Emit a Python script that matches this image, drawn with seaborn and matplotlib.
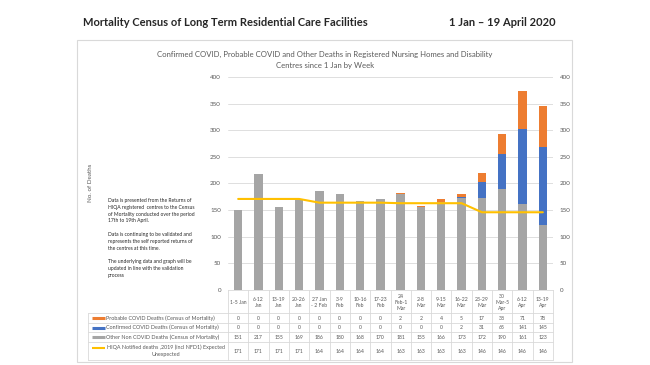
import numpy as np
import pandas as pd
import matplotlib.pyplot as plt
from matplotlib.patches import Rectangle
import seaborn as sns

# Weekly data
weeks = ['1-5 Jan', '6-12\nJan', '13-19\nJan', '20-26\nJan', '27 Jan\n- 2 Feb',
         '3-9\nFeb', '10-16\nFeb', '17-23\nFeb', '24\nFeb-1\nMar', '2-8\nMar',
         '9-15\nMar', '16-22\nMar', '23-29\nMar', '30\nMar-5\nApr', '6-12\nApr',
         '13-19\nApr']
probable = [0, 0, 0, 0, 0, 0, 0, 0, 2, 2, 4, 5, 17, 38, 71, 78]
confirmed = [0, 0, 0, 0, 0, 0, 0, 0, 0, 0, 0, 2, 31, 65, 141, 145]
other = [151, 217, 155, 169, 186, 180, 168, 170, 181, 155, 166, 173, 172, 190, 161, 123]
hiqa = [171, 171, 171, 171, 164, 164, 164, 164, 163, 163, 163, 163, 146, 146, 146, 146]

series_names = ['Probable COVID Deaths (Census of Mortality)',
                'Confirmed COVID Deaths (Census of Mortality)',
                'Other Non COVID Deaths (Census of Mortality)',
                'HIQA Notified deaths ,2019 (incl NFD1) Expected\nUnexpected']
y_ticks = [0, 50, 100, 150, 200, 250, 300, 350, 400]

ORANGE, BLUE, GRAY, YELLOW = '#ED7D31', '#4472C4', '#A5A5A5', '#FFC000'
TXT = '#595959'
LINE = '#D9D9D9'

df = pd.DataFrame({'week': weeks, 'probable': probable, 'confirmed': confirmed,
                   'other': other, 'hiqa': hiqa})
df['pos'] = np.arange(len(df))

sns.set_style('white')
plt.rcParams['font.family'] = ['Lato', 'DejaVu Sans']

W, H = 650, 365
fig = plt.figure(figsize=(6.5, 3.65), dpi=100, facecolor='white')


def fx(x):
    return x / W


def fy(y):
    return 1 - y / H


# outer frame of the chart
fig.patches.append(Rectangle((fx(77), fy(362)), fx(572) - fx(77), fy(40) - fy(362),
                             transform=fig.transFigure, fill=False,
                             edgecolor=LINE, lw=0.8))

fig.text(fx(83), fy(22), 'Mortality Census of Long Term Residential Care Facilities',
         fontsize=8.0, fontweight='bold', va='center')
fig.text(fx(556), fy(22), '1 Jan \u2013 19 April 2020', fontsize=8.0,
         fontweight='bold', va='center', ha='right')
fig.text(fx(325), fy(60), 'Confirmed COVID, Probable COVID and Other Deaths in Registered '
         'Nursing Homes and Disability\nCentres since 1 Jan by Week',
         ha='center', va='center', fontsize=5.6, color=TXT, linespacing=1.7)

# main plot area
L, R, T, B = 228, 553, 77, 290
ax = fig.add_axes([fx(L), fy(B), (R - L) / W, (B - T) / H])

bar_kw = dict(width=0.41, saturation=1, linewidth=0, ax=ax, order=weeks)
sns.barplot(data=df, x='week', y='other', color=GRAY, **bar_kw)
sns.barplot(data=df, x='week', y='confirmed', color=BLUE, bottom=df['other'], **bar_kw)
sns.barplot(data=df, x='week', y='probable', color=ORANGE,
            bottom=df['other'] + df['confirmed'], **bar_kw)
sns.lineplot(data=df, x='pos', y='hiqa', color=YELLOW, lw=1.5, ax=ax)

ax.set_xlim(-0.5, len(weeks) - 0.5)
ax.set_ylim(0, 400)
ax.set_yticks(y_ticks)
ax.yaxis.grid(True, color=LINE, lw=0.6)
ax.set_axisbelow(True)
ax.tick_params(axis='y', labelsize=4.5, labelcolor=TXT, length=0, pad=5)
ax.tick_params(axis='x', labelbottom=False, length=0)
ax.set_xlabel('')
ax.set_ylabel('')
for s in ['top', 'right', 'left']:
    ax.spines[s].set_visible(False)
ax.spines['bottom'].set_color(LINE)
ax.spines['bottom'].set_linewidth(0.6)

ax2 = ax.twinx()
ax2.set_ylim(0, 400)
ax2.set_yticks(y_ticks)
ax2.tick_params(axis='y', labelsize=4.5, labelcolor=TXT, length=0, pad=5)
for s in ax2.spines.values():
    s.set_visible(False)

fig.text(fx(90), fy(183), 'No. of Deaths', rotation=90, fontsize=4.5, color=TXT,
         ha='center', va='center')

note = ('Data is presented from the Returns of\nHIQA registered  centres to the Census\n'
        'of Mortality conducted over the period\n17th to 19th April.\n\n'
        'Data is continuing to be validated and\nrepresents the self reported returns of\n'
        'the centres at this time.\n\nThe underlying data and graph will be\n'
        'updated in line with the validation\nprocess')
fig.text(fx(108), fy(198), note, fontsize=3.6, va='top', ha='left',
         linespacing=1.45, color='#262626')

# data table under the plot, in pixel rows
colw = (R - L) / len(weeks)
axt = fig.add_axes([fx(L), fy(360), (R - L) / W, (360 - B) / H])
axt.set_xlim(-0.5, len(weeks) - 0.5)
axt.set_ylim(360, B)
axt.axis('off')


def px(x):
    # pixel column -> table data x
    return -0.5 + (x - L) / colw


x_left = px(88)
rows = [313, 323, 332, 342, 360]
lk = dict(color=LINE, lw=0.6, clip_on=False)
for y in rows:
    axt.plot([x_left, len(weeks) - 0.5], [y, y], **lk)
for i in range(len(weeks) + 1):
    axt.plot([i - 0.5, i - 0.5], [B, 360], **lk)
axt.plot([x_left, x_left], [rows[0], 360], **lk)

for i, w in enumerate(weeks):
    axt.text(i, (B + rows[0]) / 2 + 1, w, ha='center', va='center', fontsize=3.7,
             color=TXT, linespacing=1.3)

values = [probable, confirmed, other, hiqa]
colors = [ORANGE, BLUE, GRAY, YELLOW]
for r, (vals, name, c) in enumerate(zip(values, series_names, colors)):
    yc = (rows[r] + rows[r + 1]) / 2
    for i, v in enumerate(vals):
        axt.text(i, yc, str(v), ha='center', va='center', fontsize=3.7, color=TXT)
    if r < 3:
        axt.plot([px(92), px(105)], [yc, yc], color=c, lw=2.2,
                 clip_on=False, solid_capstyle='butt')
        axt.text(px(106), yc, name, ha='left', va='center', fontsize=3.9,
                 color=TXT, clip_on=False)
    else:
        axt.plot([px(92), px(105)], [yc - 3, yc - 3], color=c, lw=1.5,
                 clip_on=False, solid_capstyle='butt')
        axt.text(px(166), yc, name, ha='center', va='center', fontsize=3.9,
                 color=TXT, clip_on=False, linespacing=1.6)

fig.savefig('out.png', dpi=100, facecolor='white')
